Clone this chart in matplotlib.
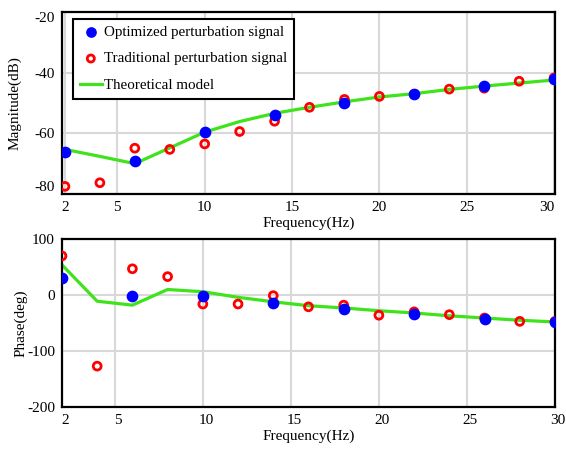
import matplotlib
matplotlib.use('Agg')
import matplotlib.pyplot as plt
import matplotlib.transforms as mtransforms

plt.rcParams['font.family'] = ['Liberation Serif', 'DejaVu Serif']
plt.rcParams['axes.unicode_minus'] = False

# Frequências (Hz)
freq_trad = [2, 4, 6, 8, 10, 12, 14, 16, 18, 20, 22, 24, 26, 28, 30]
freq_opt = [2, 6, 10, 14, 18, 22, 26, 30]
freq_model = [2, 4, 6, 8, 10, 12, 14, 16, 18, 20, 22, 24, 26, 28, 30]

# Magnitude (dB)
mag_trad = [-77.5, -76.3, -64.9, -65.3, -63.5, -59.4, -56.0, -51.4, -48.8,
            -47.8, -47.1, -45.4, -45.1, -42.8, -41.7]
mag_opt = [-66.2, -69.2, -59.6, -53.9, -50.1, -46.9, -44.3, -42.2]
mag_model = [-65.3, -67.6, -70.0, -64.8, -59.6, -56.1, -53.4, -51.4, -49.6,
             -48.0, -46.9, -45.5, -44.4, -43.4, -42.4]

# Fase (graus)
ph_trad = [70, -127, 47, 33, -16, -16, -1, -21, -18, -36, -30, -35, -41, -47, -47]
ph_opt = [31, -2, -1, -14, -25, -33, -42, -49]
ph_model = [54, -11, -18, 10, 6, -4, -12, -19, -23, -28, -32, -37, -41, -45, -48]

xticks = [2, 5, 10, 15, 20, 25, 30]
green = '#3fe31c'


def style_axes(ax):
    ax.grid(True, color='#d8d8d8', lw=1.5)
    ax.set_axisbelow(True)
    ax.tick_params(length=0, labelsize=11, pad=5)
    for s in ax.spines.values():
        s.set_linewidth(1.6)
        s.set_color('black')


def draw(ax, y_model, y_trad, y_opt):
    ax.plot(freq_model, y_model, color=green, lw=2.3, zorder=2,
            label='Theoretical model')
    ax.scatter(freq_trad, y_trad, s=32, facecolors='none', edgecolors='#ff0000',
               linewidths=2.0, zorder=3, label='Traditional perturbation signal')
    ax.scatter(freq_opt, y_opt, s=55, color='#0000ff', zorder=4,
               label='Optimized perturbation signal')


fig = plt.figure(figsize=(5.66, 4.5), dpi=100)
ax1 = fig.add_axes([0.1095, 0.569, 0.871, 0.404])
ax2 = fig.add_axes([0.1095, 0.0956, 0.871, 0.373])

# Magnitude
draw(ax1, mag_model, mag_trad, mag_opt)
ax1.set_xlim(1.83, 30.05)
ax1.set_ylim(-80, -20)
ax1.set_yticks([-80, -60, -40, -20])
ax1.set_xticks(xticks)
ax1.set_xlabel('Frequency(Hz)', fontsize=11, labelpad=2)
ax1.set_ylabel('Magnitude(dB)', fontsize=11)
ax1.yaxis.set_label_coords(-0.082, 0.5)
style_axes(ax1)
# rótulos das pontas ficam dentro do eixo
ylabs = ax1.get_yticklabels()
ylabs[0].set_va('bottom')
ylabs[-1].set_va('top')
xlabs = ax1.get_xticklabels()
xlabs[-1].set_ha('right')

h, l = ax1.get_legend_handles_labels()
order = [2, 1, 0]
leg = ax1.legend([h[i] for i in order], [l[i] for i in order], loc='upper left',
                 bbox_to_anchor=(0.022, 0.965), borderaxespad=0,
                 fontsize=10.8, fancybox=False, framealpha=1, edgecolor='black',
                 handlelength=1.5, handletextpad=0.15, labelspacing=0.88,
                 borderpad=0.45, markerscale=0.9)
leg.get_frame().set_linewidth(1.5)

# Fase
draw(ax2, ph_model, ph_trad, ph_opt)
ax2.set_xlim(2, 30)
ax2.set_ylim(-200, 100)
ax2.set_yticks([-200, -100, 0, 100])
ax2.set_xticks(xticks)
ax2.set_xlabel('Frequency(Hz)', fontsize=11, labelpad=2)
ax2.set_ylabel('Phase(deg)', fontsize=11)
ax2.yaxis.set_label_coords(-0.069, 0.5)
style_axes(ax2)
shift = mtransforms.ScaledTranslation(3 / 100, 0, fig.dpi_scale_trans)
for lab in ax2.get_xticklabels():
    lab.set_transform(lab.get_transform() + shift)

fig.savefig('out.png', dpi=100)
